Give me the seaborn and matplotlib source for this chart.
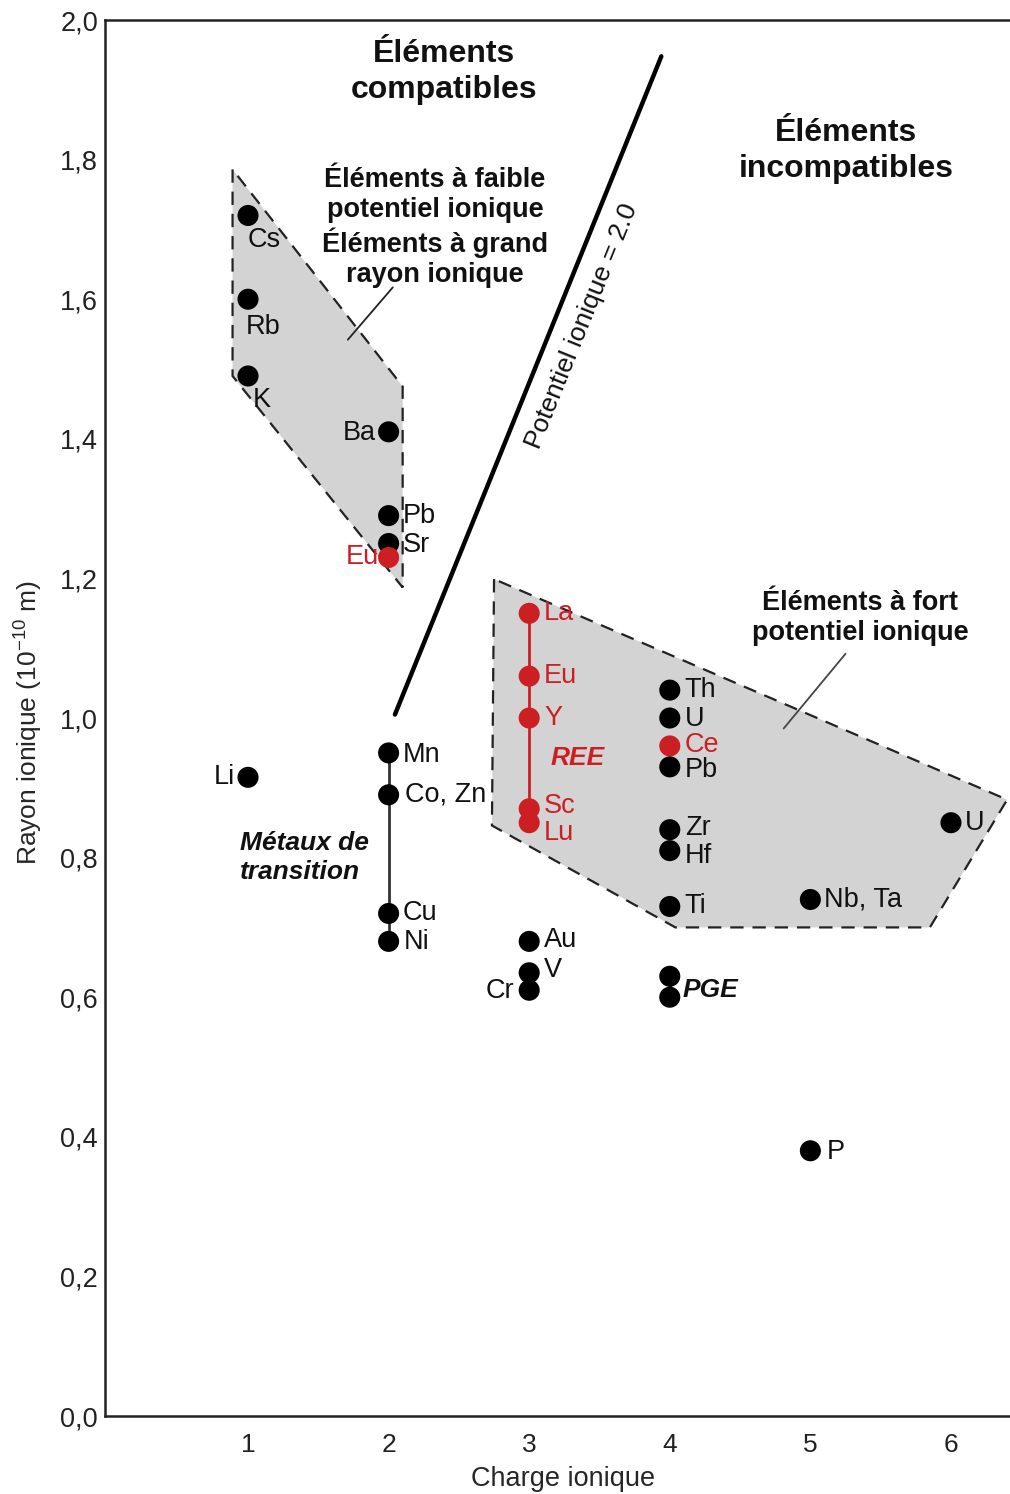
import numpy as np
import pandas as pd
import seaborn as sns
import matplotlib.pyplot as plt
from matplotlib.patches import Polygon

# --- data ---
elements = ["Cs", "Rb", "K", "Ba", "Pb", "Sr", "Eu", "Li",
            "Mn", "Co, Zn", "Cu", "Ni",
            "La", "Eu", "Y", "Sc", "Lu",
            "Th", "U", "Ce", "Pb", "Zr", "Hf", "Ti", "Nb, Ta", "U",
            "Au", "V", "Cr", "", "", "P"]
charge = [1, 1, 1, 2, 2, 2, 2, 1,
          2, 2, 2, 2,
          3, 3, 3, 3, 3,
          4, 4, 4, 4, 4, 4, 4, 5, 6,
          3, 3, 3, 4, 4, 5]
radius = [1.72, 1.60, 1.49, 1.41, 1.29, 1.25, 1.23, 0.915,
          0.95, 0.89, 0.72, 0.68,
          1.15, 1.06, 1.00, 0.87, 0.85,
          1.04, 1.00, 0.96, 0.93, 0.84, 0.81, 0.73, 0.74, 0.85,
          0.68, 0.635, 0.61, 0.63, 0.60, 0.38]
group = ["lil", "lil", "lil", "lil", "lil", "lil", "ree", "other",
         "trans", "trans", "trans", "trans",
         "ree", "ree", "ree", "ree", "ree",
         "hfs", "hfs", "ree", "hfs", "hfs", "hfs", "hfs", "hfs", "hfs",
         "other", "other", "other", "pge", "pge", "other"]

# dashed fields
lil_charge = [0.89, 0.89, 2.10, 2.10]
lil_radius = [1.786, 1.490, 1.187, 1.475]
hfs_charge = [2.75, 2.735, 4.04, 5.85, 6.40]
hfs_radius = [1.199, 0.846, 0.700, 0.700, 0.883]

# ionic potential = 2 line
pot_charge = [2.045, 3.94]
pot_radius = [1.005, 1.948]

# leader lines of the field labels
lead_lil_charge = [1.71, 2.03]
lead_lil_radius = [1.542, 1.617]
lead_hfs_charge = [4.81, 5.25]
lead_hfs_radius = [0.985, 1.092]

ytick_vals = [0.0, 0.2, 0.4, 0.6, 0.8, 1.0, 1.2, 1.4, 1.6, 1.8, 2.0]
ytick_labels = ["0,0", "0,2", "0,4", "0,6", "0,8", "1,0", "1,2", "1,4", "1,6", "1,8", "2,0"]
xtick_vals = [1, 2, 3, 4, 5, 6]

df = pd.DataFrame({"element": elements, "charge": charge, "radius": radius, "group": group})

# label offsets in pixels (dx, dy, ha)
label_pos = [(0, -25, "left"), (-2, -28, "left"), (5, -24, "left"), (-13, -1, "right"),
             (14, 0, "left"), (14, -1, "left"), (-10, 0, "right"), (-13, 0, "right"),
             (14, -2, "left"), (16, 0, "left"), (14, 0, "left"), (15, -1, "left"),
             (15, 0, "left"), (15, 0, "left"), (15, 0, "left"), (15, 3, "left"), (15, -10, "left"),
             (15, 0, "left"), (15, -1, "left"), (15, 1, "left"), (15, -3, "left"), (15, 2, "left"),
             (15, -5, "left"), (15, 0, "left"), (14, 0, "left"), (14, 0, "left"),
             (15, 1, "left"), (15, 3, "left"), (-15, -1, "right"), (0, 0, "left"), (0, 0, "left"),
             (16, -1, "left")]

RED = "#cc1f24"
palette = {"lil": "black", "trans": "black", "hfs": "black", "pge": "black",
           "other": "black", "ree": RED}

sns.set_style("white")
plt.rcParams["font.family"] = ["Liberation Sans", "DejaVu Sans"]
plt.rcParams["mathtext.default"] = "regular"

fig = plt.figure(figsize=(10.1, 14.94), dpi=100)
ax = fig.add_axes([0.104, 0.0522, 0.896, 0.9344])

# fields
ax.add_patch(Polygon(np.column_stack([lil_charge, lil_radius]), closed=True,
                     facecolor="#d3d3d3", edgecolor="#222222", lw=1.6,
                     linestyle=(0, (6, 4)), zorder=1))
ax.add_patch(Polygon(np.column_stack([hfs_charge, hfs_radius]), closed=True,
                     facecolor="#d3d3d3", edgecolor="#222222", lw=1.6,
                     linestyle=(0, (6, 4)), zorder=1))

ax.plot(pot_charge, pot_radius, color="black", lw=3.2, zorder=2)
ax.plot(lead_lil_charge, lead_lil_radius, color="#222222", lw=1.3, zorder=2)
ax.plot(lead_hfs_charge, lead_hfs_radius, color="#444444", lw=1.3, zorder=2)

# connecting lines for groups
trans = df[df.group == "trans"]
ax.plot(trans.charge, trans.radius, color="#333333", lw=2, zorder=3)
ree3 = df[(df.group == "ree") & (df.charge == 3)]
ax.plot(ree3.charge, ree3.radius, color=RED, lw=2, zorder=3)
pge = df[df.group == "pge"]
ax.plot(pge.charge, pge.radius, color="black", lw=2, zorder=3)

sns.scatterplot(data=df, x="charge", y="radius", hue="group", palette=palette,
                s=230, edgecolor="none", legend=False, zorder=4, ax=ax)

for (name, x, y, g), (dx, dy, ha) in zip(df[["element", "charge", "radius", "group"]].values, label_pos):
    if not name:
        continue
    ax.annotate(name, (x, y), xytext=(dx, dy), textcoords="offset pixels",
                ha=ha, va="center", fontsize=19.5,
                color=RED if g == "ree" else "#111111", zorder=5)

# field and group captions
ax.text(2.394, 1.925, "Éléments\ncompatibles", ha="center", va="center",
        fontsize=23, fontweight="bold", linespacing=1.25, color="#111111")
ax.text(5.253, 1.812, "Éléments\nincompatibles", ha="center", va="center",
        fontsize=23, fontweight="bold", linespacing=1.25, color="#111111")
ax.text(2.33, 1.703, "Éléments à faible\npotentiel ionique\nÉléments à grand\nrayon ionique",
        ha="center", va="center", fontsize=19.5, fontweight="bold", linespacing=1.2,
        color="#111111")
ax.text(5.353, 1.143, "Éléments à fort\npotentiel ionique", ha="center", va="center",
        fontsize=19.5, fontweight="bold", linespacing=1.2, color="#111111")
ax.text(3.376, 1.561, "Potentiel ionique = 2.0", rotation=68, rotation_mode="anchor",
        ha="center", va="center", fontsize=19, color="#111111")
ax.text(0.944, 0.80, "Métaux de\ntransition", ha="left", va="center",
        fontsize=19, fontweight="bold", fontstyle="italic", linespacing=1.3, color="#111111")
ax.text(3.347, 0.943, "REE", ha="center", va="center", color=RED,
        fontsize=19, fontweight="bold", fontstyle="italic")
ax.text(4.094, 0.61, "PGE", ha="left", va="center",
        fontsize=19, fontweight="bold", fontstyle="italic", color="#111111")

ax.set_xlim(-0.017, 6.42)
ax.set_ylim(0, 2.0)
ax.set_xticks(xtick_vals)
ax.set_xticklabels([str(v) for v in xtick_vals])
ax.set_yticks(ytick_vals)
ax.set_yticklabels(ytick_labels)
ax.tick_params(axis="y", direction="in", length=15, width=1.5, pad=5, labelsize=19.5, colors="#222222")
ax.tick_params(axis="x", direction="in", length=13, width=1.5, pad=12, labelsize=19, colors="#222222")

ax.set_xlabel("Charge ionique", fontsize=19.5)
ax.set_ylabel("Rayon ionique (10$^{-10}$ m)", fontsize=19)
ax.xaxis.set_label_coords(0.506, -0.036)
ax.yaxis.set_label_coords(-0.066, 0.497)

for side in ["left", "bottom", "top"]:
    ax.spines[side].set_color("#222222")
    ax.spines[side].set_linewidth(1.8)
ax.spines["right"].set_visible(False)

fig.savefig("out.png", dpi=100)
